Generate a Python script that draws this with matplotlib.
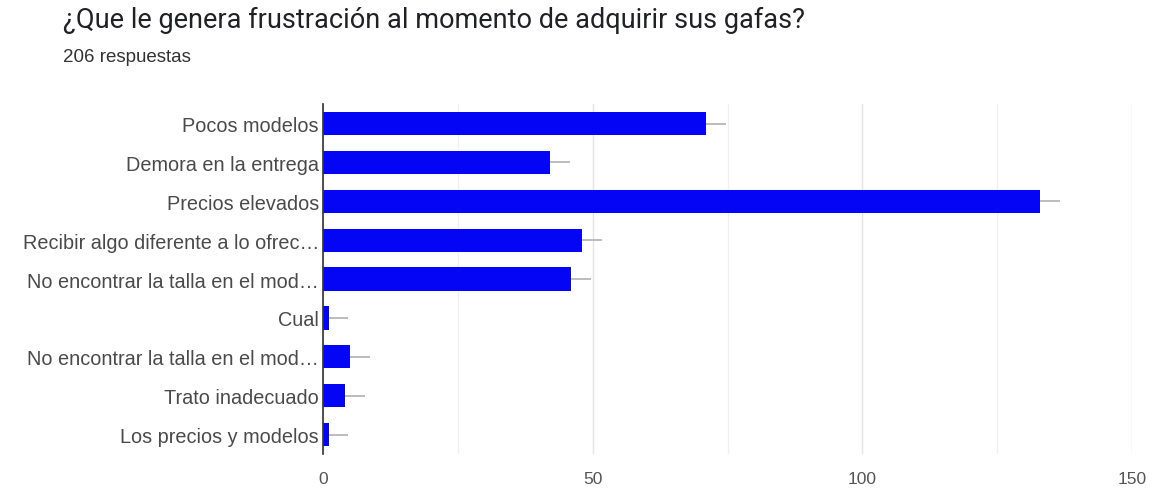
import numpy as np
import matplotlib.pyplot as plt

plt.rcParams['font.family'] = ['Liberation Sans', 'DejaVu Sans']

# Survey answers (multiple choice), top to bottom
categories = [
    "Pocos modelos",
    "Demora en la entrega",
    "Precios elevados",
    "Recibir algo diferente a lo ofrec\u2026",
    "No encontrar la talla en el mod\u2026",
    "Cual",
    "No encontrar la talla en el mod\u2026",
    "Trato inadecuado",
    "Los precios y modelos",
]
counts = [71, 42, 133, 48, 46, 1, 5, 4, 1]
errors = [3.7, 3.7, 3.7, 3.7, 3.7, 3.7, 3.7, 3.7, 3.7]
xticks = [0, 50, 100, 150]

fig = plt.figure(figsize=(11.54, 4.89), dpi=100)
ax = fig.add_axes([0.28, 0.0695, 0.701, 0.7155])

y = np.arange(len(categories))
ax.barh(y, counts, height=0.6, color="#0505f5", zorder=3,
        xerr=errors, error_kw=dict(ecolor="#b0b0b0", lw=1.2, capsize=0, zorder=2))

ax.set_ylim(len(categories) - 0.5, -0.5)
ax.set_xlim(0, 150)
ax.set_yticks(y)
ax.set_yticklabels(categories, fontsize=14.3, color="#4a4a4a")
ax.set_xticks(xticks)
ax.set_xticklabels([str(t) for t in xticks], fontsize=12.5, color="#555555")
ax.set_xticks([25, 75, 125], minor=True)
ax.tick_params(axis="both", length=0, pad=3)
ax.tick_params(axis="x", which="both", length=0, pad=12)
ax.grid(axis="x", which="major", color="#e4e4e4", lw=1, zorder=0)
ax.grid(axis="x", which="minor", color="#f0f0f0", lw=1, zorder=0)

for side in ["top", "right", "bottom"]:
    ax.spines[side].set_visible(False)
ax.spines["left"].set_color("#333333")
ax.spines["left"].set_linewidth(1.2)
ax.spines["left"].set_zorder(4)

fig.text(0.0546, 0.958, "\u00bfQue le genera frustraci\u00f3n al momento de adquirir sus gafas?",
         fontsize=19.5, color="#202124", va="center", ha="left",
         family=['Roboto', 'DejaVu Sans'])
fig.text(0.0546, 0.883, "206 respuestas", fontsize=13.5, color="#333333",
         va="center", ha="left")

fig.savefig("out.png", dpi=100)
